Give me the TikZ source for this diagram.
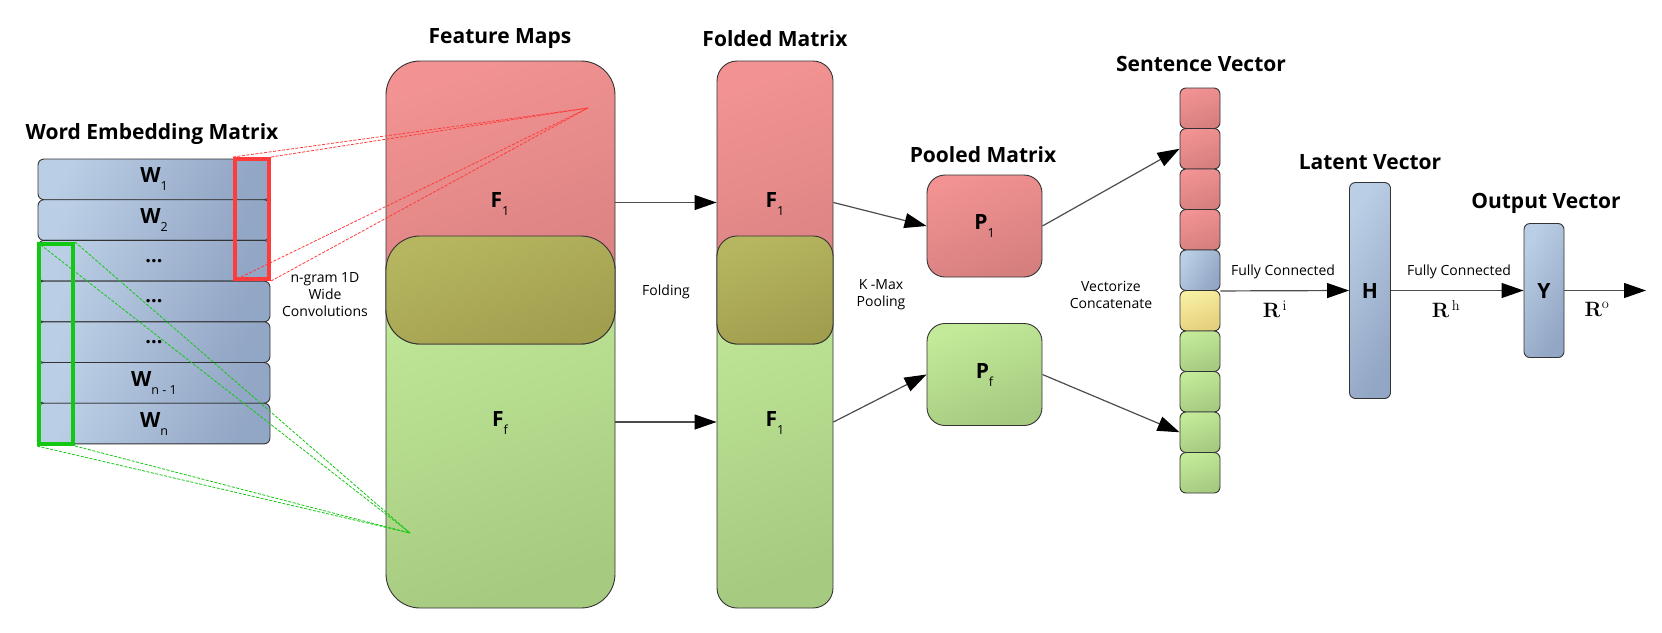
\documentclass[tikz,border=0pt]{standalone}
\usepackage[no-math]{fontspec}
\setmainfont{Open Sans}
\usetikzlibrary{arrows.meta,positioning}

\definecolor{redA}{HTML}{F29292}
\definecolor{redB}{HTML}{D67F7F}
\definecolor{grnA}{HTML}{C2EA99}
\definecolor{grnB}{HTML}{A6CA80}
\definecolor{olvA}{HTML}{B6B660}
\definecolor{olvB}{HTML}{A19E4E}
\definecolor{bluA}{HTML}{BACEE5}
\definecolor{bluB}{HTML}{92A6C5}
\definecolor{ylwA}{HTML}{F8EFA2}
\definecolor{ylwB}{HTML}{E4CF7C}
\definecolor{edge}{HTML}{333333}
\definecolor{winred}{HTML}{FF3B3B}
\definecolor{wingreen}{HTML}{12C812}

\newcommand{\blab}[2]{{\fontsize{21}{21}\selectfont\bfseries #1}\raisebox{-8pt}{\fontsize{12.5}{12.5}\selectfont #2}}
\newcommand{\bdots}{{\fontsize{20}{20}\selectfont\bfseries ...}}

\begin{document}
\begin{tikzpicture}[x=1pt, y=-1pt,
    title/.style={font=\fontsize{21}{24}\selectfont\bfseries},
    note/.style={font=\fontsize{14}{17}\selectfont, align=center, inner sep=1pt},
    box/.style={draw=edge, line width=0.9pt, rounded corners=#1, inner sep=0pt},
    redfill/.style={top color=redA, bottom color=redB, shading angle=20},
    grnfill/.style={top color=grnA, bottom color=grnB, shading angle=20},
    olvfill/.style={top color=olvA, bottom color=olvB, shading angle=20},
    blufill/.style={left color=bluA, right color=bluB, shading angle=60},
    ylwfill/.style={top color=ylwA, bottom color=ylwB, shading angle=20},
    arr/.style={draw=black!70, line width=1.2pt, -{Triangle[length=22pt,width=15pt,color=black]}},
    window/.style={draw=#1, line width=4pt, inner sep=0pt},
    ray/.style={draw=#1, line width=0.8pt, dash pattern=on 3pt off 1.5pt}]
    \useasboundingbox (0,0) rectangle (1662,632);
    % word embedding matrix
    \node[title] (tWord) at (152,134) {Word Embedding Matrix};
    \foreach \i/\t in {1/\blab{W}{1}, 2/\blab{W}{2}, 3/\bdots, 4/\bdots,
                       5/\bdots, 6/\blab{W}{n - 1}, 7/\blab{W}{n}}
        \node[box=6pt, blufill, minimum width=232pt, minimum height=40.7pt] (w\i)
            at (154,138.65+40.7*\i) {\t};
    \node[window=winred, minimum width=34pt, minimum height=120pt] (win1) at (252,219) {};
    \node[window=wingreen, minimum width=34pt, minimum height=200pt] (win2) at (56,344) {};
    \node[note] (conv) at (325,295) {n-gram 1D\\Wide\\Convolutions};
    %
    % feature maps
    \node[title] (tFeat) at (500,39) {Feature Maps};
    \node[box=34pt, grnfill, minimum width=229pt, minimum height=372pt] (fmG) at (500.5,422) {};
    \node[box=34pt, redfill, minimum width=229pt, minimum height=283pt] (fmR) at (500.5,202.5) {};
    \node[box=34pt, olvfill, minimum width=229pt, minimum height=108pt] (fmO) at (500.5,290) {};
    \node (fm1) at (500,204) {\blab{F}{1}};
    \node (fmf) at (500,423) {\blab{F}{f}};
    \node[note] (fold) at (666,292) {Folding};
    %
    % folded matrix
    \node[title] (tFold) at (775,39) {Folded Matrix};
    \node[box=20pt, grnfill, minimum width=116pt, minimum height=372pt] (fdG) at (775,422) {};
    \node[box=20pt, redfill, minimum width=116pt, minimum height=283pt] (fdR) at (775,202.5) {};
    \node[box=20pt, olvfill, minimum width=116pt, minimum height=108pt] (fdO) at (775,290) {};
    \node (fd1) at (775,204) {\blab{F}{1}};
    \node (fd2) at (775,423) {\blab{F}{1}};
    \draw[arr] (fmR.east) -- (fdR.west);
    \draw[arr] (fmG.east) -- (fdG.west);
    %
    % pooled matrix
    \node[note] (kmax) at (881,294.5) {K -Max\\Pooling};
    \node[title] (tPool) at (983,155) {Pooled Matrix};
    \node[box=18pt, redfill, minimum width=115pt, minimum height=102pt] (p1) at (984.5,226) {\blab{P}{1}};
    \node[box=18pt, grnfill, minimum width=115pt, minimum height=102pt] (pf) at (984.5,374.5) {\blab{P}{f}};
    \draw[arr] (fdR.east) -- (p1.west);
    \draw[arr] (fdG.east) -- (pf.west);
    %
    % sentence vector
    \node[note] (vec) at (1111,294.5) {Vectorize\\Concatenate};
    \node[title] (tSent) at (1201,64) {Sentence Vector};
    \foreach \i/\f in {1/redfill, 2/redfill, 3/redfill, 4/redfill, 5/blufill,
                       6/ylwfill, 7/grnfill, 8/grnfill, 9/grnfill, 10/grnfill}
        \node[box=6pt, \f, minimum width=40pt, minimum height=40.5pt] (s\i)
            at (1200,67.75+40.5*\i) {};
    \draw[arr] (p1.east) -- (s2.west);
    \draw[arr] (pf.east) -- (s9.west);
    %
    % latent and output vectors
    \node[title] (tLat) at (1370,162) {Latent Vector};
    \node[box=6pt, blufill, minimum width=41pt, minimum height=216pt] (h) at (1370,290.5)
        {\fontsize{21}{21}\selectfont\bfseries H};
    \node[title] (tOut) at (1546,203) {Output Vector};
    \node[box=6pt, blufill, minimum width=40pt, minimum height=134pt] (y) at (1544,290.5)
        {\fontsize{21}{21}\selectfont\bfseries Y};
    \coordinate (out) at (1646,290.5);
    \draw[arr] (s5.south east) -- (h.west);
    \draw[arr] (h.east) -- (y.west);
    \draw[arr] (y.east) -- (out);
    \node[note] (fc1) at (1283,272) {Fully Connected};
    \node[note] (fc2) at (1459,272) {Fully Connected};
    \node (ri) at (1275,309) {\fontsize{22}{22}\selectfont$\mathbf{R}^{\,\mathrm{i}}$};
    \node (rh) at (1446,309) {\fontsize{22}{22}\selectfont$\mathbf{R}^{\,\mathrm{h}}$};
    \node (ro) at (1597,309) {\fontsize{22}{22}\selectfont$\mathbf{R}^{\mathrm{o}}$};
    %
    % receptive fields
    \coordinate (ap1) at (588,108);
    \coordinate (ap2) at (410,533);
    \foreach \c in {north west, north east, south west, south east} {
        \draw[ray=winred] (win1.\c) -- (ap1);
        \draw[ray=wingreen] (win2.\c) -- (ap2);
    }
\end{tikzpicture}
\end{document}
